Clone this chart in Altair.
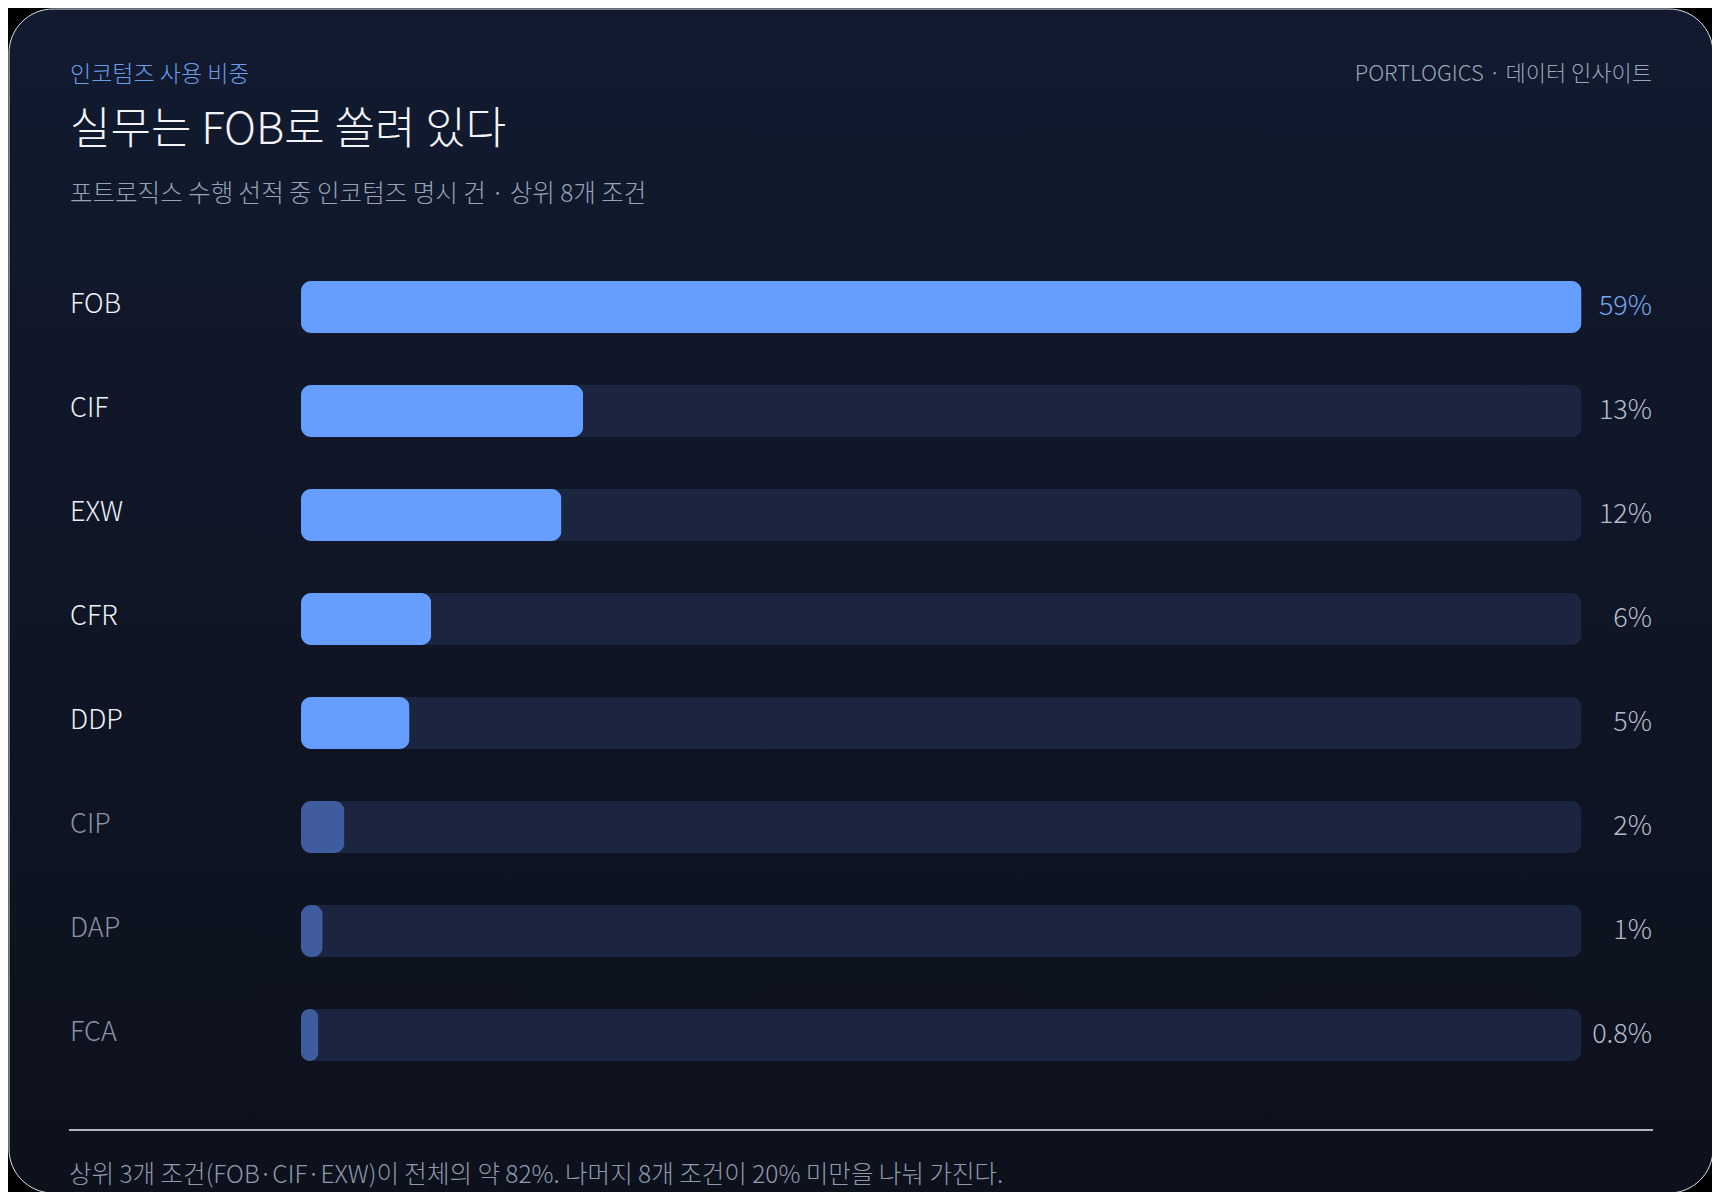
import pandas as pd
import altair as alt

terms = ["FOB", "CIF", "EXW", "CFR", "DDP", "CIP", "DAP", "FCA"]
shares = [59, 13, 12, 6, 5, 2, 1, 0.8]
share_text = ["59%", "13%", "12%", "6%", "5%", "2%", "1%", "0.8%"]
tiers = ["lead", "main", "main", "main", "main", "minor", "minor", "minor"]

kicker = "인코텀즈 사용 비중"
headline = "실무는 FOB로 쏠려 있다"
subhead = "포트로직스 수행 선적 중 인코텀즈 명시 건 · 상위 8개 조건"
brand = "PORTLOGICS · 데이터 인사이트"
footnote = "상위 3개 조건(FOB·CIF·EXW)이 전체의 약 82%. 나머지 8개 조건이 20% 미만을 나눠 가진다."

df = pd.DataFrame({"term": terms, "share": shares, "label": share_text, "tier": tiers})
df["full"] = max(shares)  # track length = the leading term

# page has an 8px margin on every side; keep the page inside 1720x1200
W, H = 1704, 1184
FONT = "Noto Sans CJK KR"
one = alt.Data(values=[{}])

y_enc = alt.Y("term:N", sort=terms, axis=None,
              scale=alt.Scale(range=[246, 1078], paddingInner=0.5, paddingOuter=0.25))
x_scale = alt.Scale(domain=[0, max(shares)], range=[292, 1572.5])

card = alt.Chart(one).mark_rect(
    cornerRadius=44, stroke="#d9dee8", strokeWidth=1,
    fill=alt.Gradient(gradient="linear", x1=0, x2=0, y1=0, y2=1,
                      stops=[alt.GradientStop(color="#111a2f", offset=0),
                             alt.GradientStop(color="#0d111c", offset=1)]),
).encode(x=alt.value(0), x2=alt.value(W), y=alt.value(0), y2=alt.value(H))

track = alt.Chart(df).mark_bar(cornerRadius=10, color="#1c2540").encode(
    x=alt.X("full:Q", scale=x_scale, axis=None), y=y_enc)

bars = alt.Chart(df).mark_bar(cornerRadius=10).encode(
    x=alt.X("share:Q", scale=x_scale, axis=None), y=y_enc,
    color=alt.condition(alt.datum.tier == "minor", alt.value("#3f5d9e"), alt.value("#669eff")),
)

names = alt.Chart(df).mark_text(align="left", baseline="middle", font=FONT,
                                fontSize=27, fontWeight=300, dy=-2).encode(
    x=alt.value(61), y=y_enc, text="term:N",
    color=alt.condition(alt.datum.tier == "minor", alt.value("#8891a5"), alt.value("#eef2f8")),
)

values = alt.Chart(df).mark_text(align="right", baseline="middle", font=FONT,
                                 fontSize=27, fontWeight=300).encode(
    x=alt.value(1643), y=y_enc, text="label:N",
    color=alt.condition(alt.datum.tier == "lead", alt.value("#79a7ef"), alt.value("#b3bccb")),
)


def note(text, x, y, size, color, align="left", weight=300):
    return alt.Chart(one).mark_text(
        text=text, align=align, baseline="alphabetic", font=FONT,
        fontSize=size, fontWeight=weight, color=color,
    ).encode(x=alt.value(x), y=alt.value(y))


divider = alt.Chart(one).mark_rule(color="#e8ecf2", strokeWidth=1.5).encode(
    x=alt.value(60), x2=alt.value(1644), y=alt.value(1121))

chart = alt.layer(
    card, track, bars, names, values,
    note(kicker, 61, 73, 23, "#6b9ce8"),
    note(headline, 61, 135, 44, "#f2f4f8"),
    note(subhead, 61, 193, 24.5, "#98a3b6"),
    note(brand, 1643, 72, 22, "#9aa5b8", align="right"),
    divider,
    note(footnote, 60, 1174, 24.5, "#8f9aae"),
).properties(
    width=W, height=H,
    autosize=alt.AutoSizeParams(type="fit", contains="padding"),
    padding=0, background="#000000",
).configure_view(stroke=None)

chart.save("out.html", embed_options={"renderer": "svg", "actions": False})
